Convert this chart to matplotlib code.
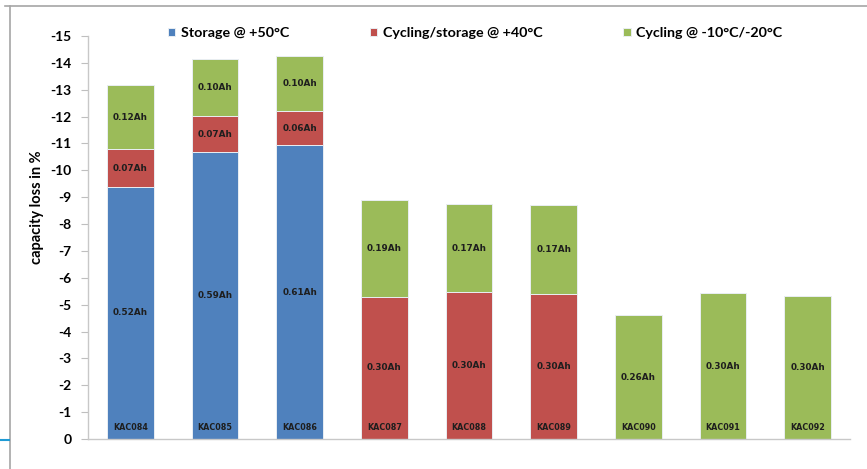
import matplotlib

matplotlib.use('Agg')
import matplotlib.pyplot as plt
from matplotlib.lines import Line2D
import numpy as np

# data (capacity loss in %, stacked, negative = loss)
cells = ['KAC084', 'KAC085', 'KAC086', 'KAC087', 'KAC088', 'KAC089',
         'KAC090', 'KAC091', 'KAC092']
storage_50 = [-9.38, -10.68, -10.93, 0, 0, 0, 0, 0, 0]
cycling_40 = [-1.41, -1.34, -1.28, -5.30, -5.46, -5.39, 0, 0, 0]
cycling_cold = [-2.37, -2.11, -2.06, -3.59, -3.29, -3.32, -4.61, -5.42, -5.33]
ah_storage = [0.52, 0.59, 0.61, None, None, None, None, None, None]
ah_cycling_40 = [0.07, 0.07, 0.06, 0.30, 0.30, 0.30, None, None, None]
ah_cycling_cold = [0.12, 0.10, 0.10, 0.19, 0.17, 0.17, 0.26, 0.30, 0.30]
series_names = ['Storage @ +50°C', 'Cycling/storage @ +40°C', 'Cycling @ -10°C/-20°C']
yticks = list(range(0, -16, -1))

colors = ['#4F81BD', '#C0504D', '#9BBB59']
plt.rcParams['font.family'] = ['Lato', 'DejaVu Sans']

fig = plt.figure(figsize=(8.67, 4.69), dpi=100)
ax = fig.add_axes([88 / 867, 1 - 439 / 469, 762 / 867, 403 / 469])

x = np.arange(len(cells))
width = 0.555
bottom = np.zeros(len(cells))
containers = []
for vals, ah, col, name in zip([storage_50, cycling_40, cycling_cold],
                               [ah_storage, ah_cycling_40, ah_cycling_cold],
                               colors, series_names):
    vals = np.array(vals, dtype=float)
    bc = ax.bar(x, vals, width, bottom=bottom, color=col, edgecolor='#E9EEF3',
                linewidth=0.7, label=name)
    labels = [f'{a:.2f}Ah' if a is not None else '' for a in ah]
    ax.bar_label(bc, labels=labels, label_type='center', fontsize=6.4,
                 fontweight='bold', color='#1E1E1E', fontfamily='DejaVu Sans')
    containers.append(bc)
    bottom = bottom + vals

for xi, name in zip(x, cells):
    ax.text(xi, -0.41, name, ha='center', va='center', fontsize=5.8,
            fontweight='bold', color='#1E1E1E', fontfamily='DejaVu Sans')

ax.set_xlim(-0.5, len(cells) - 0.5)
ax.set_ylim(0, -15)
ax.set_yticks(yticks)
ax.set_yticklabels([str(t) for t in yticks], fontsize=10, fontweight='bold')
ax.set_xticks([])
ax.tick_params(axis='y', length=5, width=0.8, color='#BFBFBF', pad=7)
for side in ('top', 'right'):
    ax.spines[side].set_visible(False)
for side in ('left', 'bottom'):
    ax.spines[side].set_color('#C8C8C8')
    ax.spines[side].set_linewidth(1.0)

ax.set_ylabel('capacity loss in %', fontsize=10.5, fontweight='bold')
ax.yaxis.set_label_coords(-0.058, 0.576)

fig.legend(handles=containers, labels=series_names, ncol=3, loc='center',
           bbox_to_anchor=(0.548, 1 - 33 / 469), frameon=False,
           prop={'size': 10.3, 'weight': 'bold'}, handlelength=0.55,
           handleheight=0.55, handletextpad=0.4, columnspacing=5.6)

# slide frame around the chart
fig.add_artist(Line2D([5 / 867, 1], [1 - 6 / 469] * 2, transform=fig.transFigure,
                      color='#A6A6A6', lw=1.2))
fig.add_artist(Line2D([10 / 867] * 2, [0, 1 - 6 / 469], transform=fig.transFigure,
                      color='#A6A6A6', lw=1.2))
fig.add_artist(Line2D([0, 9 / 867], [1 - 440 / 469] * 2, transform=fig.transFigure,
                      color='#1F9BD5', lw=1.5))

fig.savefig('out.png', dpi=100)
